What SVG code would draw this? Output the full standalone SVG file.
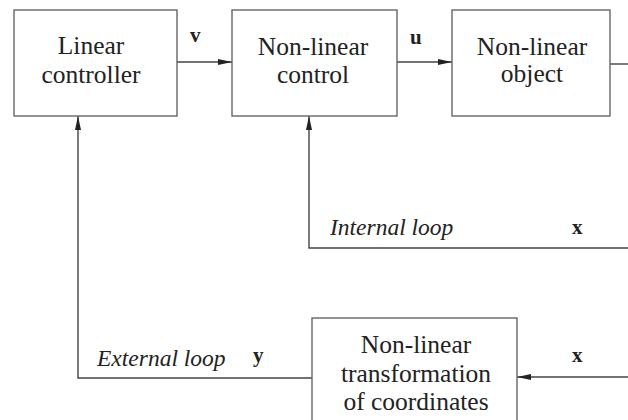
<svg xmlns="http://www.w3.org/2000/svg" width="628" height="420" viewBox="0 0 628 420">
<defs>
<marker id="ah" markerWidth="14" markerHeight="8" refX="14" refY="4" orient="auto" markerUnits="userSpaceOnUse">
<path d="M0,1 L14,4 L0,7 Z" fill="#222"/>
</marker>
</defs>
<style>
.box{fill:#fff;stroke:#666;stroke-width:1.4}
.t{font-family:'Liberation Serif','DejaVu Serif',serif;font-size:25.5px;fill:#222;text-anchor:middle}
.lbl{font-family:'Liberation Serif','DejaVu Serif',serif;font-size:23.5px;font-style:italic;fill:#222}
.var{font-family:'Liberation Serif','DejaVu Serif',serif;font-size:21px;font-weight:bold;fill:#222}
.c{fill:none;stroke:#444;stroke-width:1.4}
</style>
<rect width="628" height="420" fill="#fff"/>
<g id="connectors">
<line class="c" x1="177" y1="62" x2="232" y2="62" marker-end="url(#ah)"/>
<line class="c" x1="397" y1="62" x2="452" y2="62" marker-end="url(#ah)"/>
<line class="c" x1="610" y1="64" x2="628" y2="64"/>
<polyline class="c" points="628,248 309,248 309,116" marker-end="url(#ah)"/>
<line class="c" x1="628" y1="377" x2="517" y2="377" marker-end="url(#ah)"/>
<polyline class="c" points="312,378 78,378 78,116" marker-end="url(#ah)"/>
</g>
<g id="labels">
<text class="var" x="190" y="42">v</text>
<text class="var" x="410" y="44">u</text>
<text class="lbl" x="330" y="235">Internal loop</text>
<text class="var" x="572" y="234">x</text>
<text class="lbl" x="97" y="366">External loop</text>
<text class="var" x="253" y="362">y</text>
<text class="var" x="572" y="362">x</text>
</g>
<g id="linear-controller">
<rect class="box" x="14" y="10" width="163" height="106"/>
<text class="t" x="91" y="54">Linear</text>
<text class="t" x="91" y="83">controller</text>
</g>
<g id="nonlinear-control">
<rect class="box" x="232" y="10" width="165" height="106"/>
<text class="t" x="313" y="55">Non-linear</text>
<text class="t" x="313" y="83">control</text>
</g>
<g id="nonlinear-object">
<rect class="box" x="452" y="10" width="158" height="106"/>
<text class="t" x="532" y="55">Non-linear</text>
<text class="t" x="532" y="82">object</text>
</g>
<g id="nonlinear-transformation">
<rect class="box" x="312" y="318" width="205" height="110"/>
<text class="t" x="416" y="353">Non-linear</text>
<text class="t" x="416" y="382">transformation</text>
<text class="t" x="416" y="410">of coordinates</text>
</g>
</svg>
